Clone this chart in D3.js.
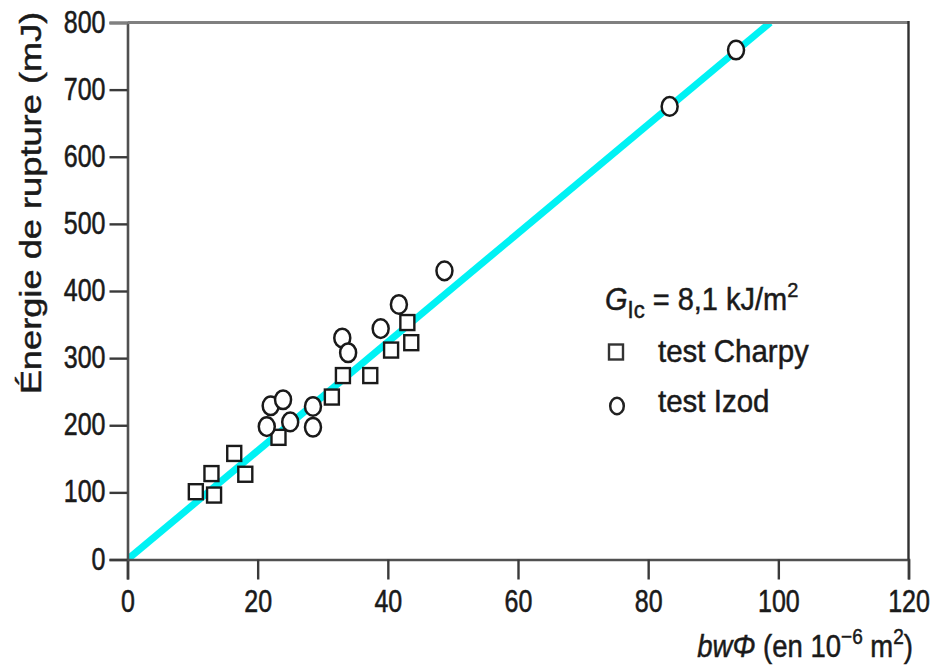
<!DOCTYPE html>
<html><head><meta charset="utf-8">
<script src="https://cdn.jsdelivr.net/npm/d3@7"></script>
<style>
body{margin:0;background:#fff;}
text{font-family:"Liberation Sans",Arial,Helvetica,sans-serif;fill:#1a1a1a;stroke:#1a1a1a;stroke-width:0.45px;}
</style></head>
<body><svg id="c" width="946" height="666"></svg>
<script>
// ---- data ----
const xTicks = [0, 20, 40, 60, 80, 100, 120];
const yTicks = [0, 100, 200, 300, 400, 500, 600, 700, 800];
const charpyX = [10.5, 12.9, 13.3, 16.4, 18.1, 23.2, 31.4, 33.1, 37.3, 40.5, 43.0, 43.6];
const charpyY = [101, 128, 96, 158, 127, 182, 242, 274, 274, 312, 353, 323];
const izodX = [21.4, 22.0, 23.9, 25.0, 28.5, 28.5, 33.0, 33.9, 38.9, 41.7, 48.7, 83.3, 93.5];
const izodY = [198, 229, 238, 205, 228, 197, 330, 308, 344, 380, 430, 675, 759];
const fitSlope = [8.1]; // mJ per 10^-6 m^2  (G_Ic = 8,1 kJ/m^2)
const legendLabels = ["test Charpy", "test Izod"];

const svg = d3.select("#c");
const x = d3.scaleLinear().domain([0, 120]).range([127.5, 908.5]);
const y = d3.scaleLinear().domain([0, 800]).range([559.5, 22.5]);

const TS = 1.25; // vertical stretch of the source picture's tick labels

// fit line (clipped to plot)
svg.append("clipPath").attr("id","pc").append("rect")
  .attr("x", x(0)).attr("y", y(800)).attr("width", x(120)-x(0)).attr("height", y(0)-y(800));
const xEnd = 800 / fitSlope[0];
svg.append("line").attr("clip-path","url(#pc)")
  .attr("x1", x(0)).attr("y1", y(0)).attr("x2", x(xEnd)).attr("y2", y(800))
  .attr("stroke", "#00f2f4").attr("stroke-width", 7);

// axes
const gx = svg.append("g").attr("transform", `translate(0,${y(0)})`)
  .call(d3.axisBottom(x).tickValues(xTicks).tickSize(20).tickPadding(0).tickFormat(d3.format("d")));
const gy = svg.append("g").attr("transform", `translate(${x(0)},0)`)
  .call(d3.axisLeft(y).tickValues(yTicks).tickSize(18).tickPadding(0).tickFormat(d3.format("d")));
[gx, gy].forEach(g => {
  g.select(".domain").attr("stroke", "#505050").attr("stroke-width", 2.6);
  g.selectAll(".tick line").attr("stroke", "#3a3a3a").attr("stroke-width", 2.4);
  g.selectAll(".tick text").attr("fill", "#1a1a1a").style("font-size", "25px").attr("dy", null);
});
gx.selectAll(".tick text").attr("y", 0)
  .attr("transform", `translate(0,${52}) scale(1,${TS})`);
gy.selectAll(".tick text").attr("x", 0).attr("dy", null)
  .attr("transform", `translate(-22,${9.5}) scale(1,${TS})`);
gy.select(".tick:last-of-type line").attr("stroke", "#808080").attr("stroke-width", 3.2);
// frame top & right
svg.append("line").attr("x1", x(0)).attr("x2", x(120)).attr("y1", y(800)).attr("y2", y(800))
  .attr("stroke", "#808080").attr("stroke-width", 3.2);
svg.append("line").attr("x1", x(120)).attr("x2", x(120)).attr("y1", y(800)-1.5).attr("y2", y(0))
  .attr("stroke", "#303030").attr("stroke-width", 2.4);

// markers
const sqW = 14, sqH = 15;
svg.append("g").selectAll("rect").data(charpyX.map((d,i)=>[d, charpyY[i]])).join("rect")
  .attr("x", d => x(d[0]) - sqW/2).attr("y", d => y(d[1]) - sqH/2)
  .attr("width", sqW).attr("height", sqH)
  .attr("fill", "#fff").attr("stroke", "#1a1a1a").attr("stroke-width", 2.4);
svg.append("g").selectAll("ellipse").data(izodX.map((d,i)=>[d, izodY[i]])).join("ellipse")
  .attr("cx", d => x(d[0])).attr("cy", d => y(d[1]))
  .attr("rx", 8).attr("ry", 9.3)
  .attr("fill", "#fff").attr("stroke", "#1a1a1a").attr("stroke-width", 2.5);

// legend
const lg = svg.append("g");
const t0 = lg.append("text").attr("transform", `translate(605,310) scale(1,1.05)`).style("font-size", "29px");
t0.append("tspan").style("font-style", "italic").text("G");
t0.append("tspan").attr("dy", 8).style("font-size", "22px").text("Ic");
t0.append("tspan").attr("dy", -8).text(" = 8,1 kJ/m");
t0.append("tspan").attr("dy", -12).style("font-size", "20px").text("2");
lg.append("rect").attr("x", 616 - 7).attr("y", 352 - 7.5).attr("width", 14).attr("height", 15)
  .attr("fill", "#fff").attr("stroke", "#333").attr("stroke-width", 2.4);
lg.append("ellipse").attr("cx", 617).attr("cy", 406).attr("rx", 6.8).attr("ry", 8.2)
  .attr("fill", "#fff").attr("stroke", "#222").attr("stroke-width", 2.5);
lg.append("text").attr("transform", `translate(658,362) scale(1,1.05)`).style("font-size", "29.5px").text(legendLabels[0]);
lg.append("text").attr("transform", `translate(658,412) scale(1,1.05)`).style("font-size", "29.5px").text(legendLabels[1]);

// axis titles
const xt = svg.append("text").attr("text-anchor", "end")
  .attr("transform", `translate(913,657) scale(1,1.12)`).style("font-size", "27.5px");
xt.append("tspan").style("font-style", "italic").text("bwΦ");
xt.append("tspan").text(" (en 10");
xt.append("tspan").attr("dy", -12).style("font-size", "19px").text("−6");
xt.append("tspan").attr("dy", 12).text(" m");
xt.append("tspan").attr("dy", -12).style("font-size", "19px").text("2");
xt.append("tspan").attr("dy", 12).text(")");

svg.append("text").attr("text-anchor", "middle")
  .attr("transform", `translate(41,203) rotate(-90) scale(1.25,1)`)
  .style("font-size", "29px").text("Énergie de rupture (mJ)");
</script></body></html>
